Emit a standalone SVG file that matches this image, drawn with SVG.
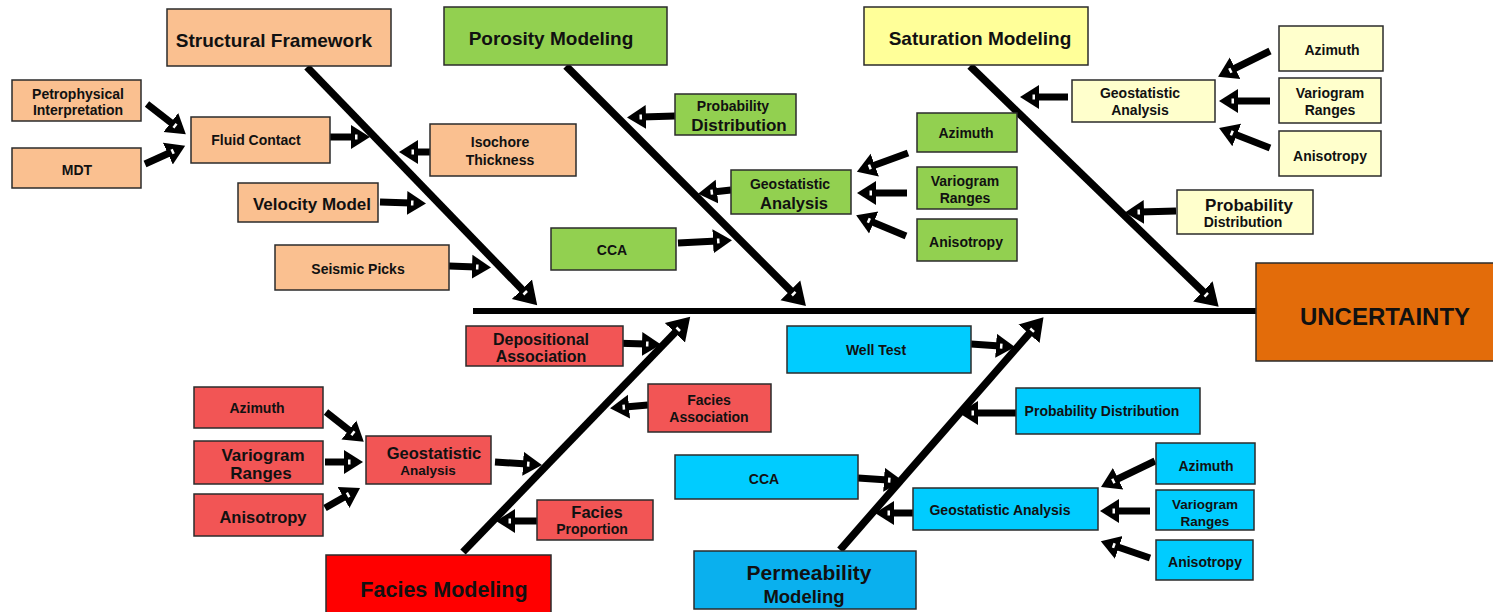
<svg xmlns="http://www.w3.org/2000/svg" width="1493" height="612" viewBox="0 0 1493 612">
<style>
rect{stroke:#2b2b2b;stroke-width:1.5}
text{font-family:"Liberation Sans",Arial,sans-serif;font-weight:bold;fill:#111;text-anchor:middle}
.peach{fill:#FAC090}.green{fill:#92D050}.yh{fill:#FFFF99}.yl{fill:#FFFFCC}
.red{fill:#F25555}.redH{fill:#FF0000}.cyan{fill:#00CCFF}.blueH{fill:#0AB0EE}.orange{fill:#E36C0A}
.a{stroke:#000;stroke-width:7;fill:none;marker-end:url(#ah)}
.b{stroke:#000;stroke-width:7.5;fill:none;marker-end:url(#bh)}
</style>
<defs>
<marker id="ah" markerUnits="userSpaceOnUse" markerWidth="20" markerHeight="26" viewBox="0 0 20 26" refX="4" refY="13" orient="auto">
<path d="M0,1 L19,13 L0,25 Z" fill="#000"/><rect x="4" y="10.5" width="2.5" height="5" fill="#fff" style="stroke:none"/>
</marker>
<marker id="bh" markerUnits="userSpaceOnUse" markerWidth="23" markerHeight="30" viewBox="0 0 23 30" refX="3" refY="15" orient="auto">
<path d="M0,1 L22,15 L0,29 Z" fill="#000"/><rect x="3.5" y="12.5" width="2.5" height="5" fill="#fff" style="stroke:none"/>
</marker>
</defs>

<g id="connectors">
<line x1="473" y1="311" x2="1257" y2="311" stroke="#000" stroke-width="6"/>
<line class="b" x1="307" y1="67" x2="524" y2="291.5"/>
<line class="b" x1="566" y1="66" x2="792.5" y2="292.5"/>
<line class="b" x1="970" y1="66" x2="1205" y2="293.5"/>
<line class="b" x1="463" y1="552" x2="677" y2="330.5"/>
<line class="b" x1="840" y1="550" x2="1031" y2="331.5"/>
<line class="a" x1="147" y1="104" x2="174" y2="125"/>
<line class="a" x1="145" y1="164" x2="171.5" y2="152"/>
<line class="a" x1="330" y1="137" x2="355" y2="137"/>
<line class="a" x1="430" y1="152" x2="414" y2="152"/>
<line class="a" x1="380" y1="202" x2="411" y2="203"/>
<line class="a" x1="449" y1="266" x2="476" y2="267"/>
<line class="a" x1="675" y1="116" x2="642" y2="117"/>
<line class="a" x1="731" y1="190" x2="713" y2="192"/>
<line class="a" x1="678" y1="243" x2="717" y2="241"/>
<line class="a" x1="908" y1="153" x2="871" y2="166.5"/>
<line class="a" x1="907" y1="193" x2="872" y2="193"/>
<line class="a" x1="906" y1="236" x2="870" y2="221"/>
<line class="a" x1="1068" y1="97" x2="1035" y2="97"/>
<line class="a" x1="1270" y1="51" x2="1231.5" y2="70"/>
<line class="a" x1="1270" y1="101" x2="1234" y2="101"/>
<line class="a" x1="1270" y1="148" x2="1233" y2="133.5"/>
<line class="a" x1="1176" y1="211" x2="1140" y2="212"/>
<line class="a" x1="611" y1="343" x2="646" y2="344"/>
<line class="a" x1="648" y1="405" x2="625" y2="407"/>
<line class="a" x1="326" y1="412" x2="352" y2="432.5"/>
<line class="a" x1="325" y1="462" x2="348" y2="462"/>
<line class="a" x1="325" y1="508" x2="347" y2="495.5"/>
<line class="a" x1="495" y1="462" x2="527" y2="464"/>
<line class="a" x1="537" y1="521" x2="511" y2="521"/>
<line class="a" x1="971" y1="344" x2="1000" y2="346"/>
<line class="a" x1="1016" y1="413" x2="974" y2="413"/>
<line class="a" x1="858" y1="478" x2="888" y2="480"/>
<line class="a" x1="913" y1="513" x2="890" y2="513"/>
<line class="a" x1="1155" y1="461" x2="1114.5" y2="480.5"/>
<line class="a" x1="1150" y1="511" x2="1115" y2="511"/>
<line class="a" x1="1150" y1="558" x2="1115" y2="546"/>
</g>

<g id="structural-framework"><rect class="peach" x="167" y="9" width="224" height="57"/><text x="274" y="47" font-size="19">Structural Framework</text></g>
<g id="porosity-modeling"><rect class="green" x="444" y="7" width="223" height="58"/><text x="551" y="45" font-size="19">Porosity Modeling</text></g>
<g id="saturation-modeling"><rect class="yh" x="864" y="7" width="224" height="58"/><text x="980" y="45" font-size="19">Saturation Modeling</text></g>

<g id="petrophysical"><rect class="peach" x="12" y="80" width="129" height="41"/><text x="78" y="99" font-size="14">Petrophysical</text><text x="78" y="115" font-size="14">Interpretation</text></g>
<g id="mdt"><rect class="peach" x="12" y="148" width="129" height="40"/><text x="77" y="175" font-size="14">MDT</text></g>
<g id="fluid-contact"><rect class="peach" x="191" y="117" width="139" height="46"/><text x="256" y="145" font-size="14">Fluid Contact</text></g>
<g id="isochore"><rect class="peach" x="430" y="124" width="146" height="52"/><text x="500" y="147" font-size="14">Isochore</text><text x="500" y="165" font-size="14">Thickness</text></g>
<g id="velocity-model"><rect class="peach" x="238" y="183" width="140" height="39"/><text x="312" y="210" font-size="17">Velocity Model</text></g>
<g id="seismic-picks"><rect class="peach" x="275" y="245" width="174" height="45"/><text x="358" y="274" font-size="14">Seismic Picks</text></g>

<g id="porosity-probability"><rect class="green" x="675" y="94" width="121" height="41"/><text x="733" y="111" font-size="14">Probability</text><text x="739" y="131" font-size="17">Distribution</text></g>
<g id="porosity-geostat"><rect class="green" x="731" y="170" width="120" height="44"/><text x="790" y="189" font-size="14">Geostatistic</text><text x="794" y="209" font-size="16.5">Analysis</text></g>
<g id="porosity-cca"><rect class="green" x="551" y="228" width="125" height="42"/><text x="612" y="255" font-size="14">CCA</text></g>
<g id="porosity-azimuth"><rect class="green" x="917" y="113" width="100" height="39"/><text x="966" y="138" font-size="14">Azimuth</text></g>
<g id="porosity-variogram"><rect class="green" x="917" y="167" width="100" height="42"/><text x="965" y="186" font-size="14">Variogram</text><text x="965" y="203" font-size="14">Ranges</text></g>
<g id="porosity-anisotropy"><rect class="green" x="917" y="219" width="100" height="42"/><text x="966" y="247" font-size="14">Anisotropy</text></g>

<g id="saturation-geostat"><rect class="yl" x="1072" y="80" width="143" height="42"/><text x="1140" y="98" font-size="14">Geostatistic</text><text x="1140" y="115" font-size="14">Analysis</text></g>
<g id="saturation-azimuth"><rect class="yl" x="1279" y="26" width="104" height="45"/><text x="1332" y="55" font-size="14">Azimuth</text></g>
<g id="saturation-variogram"><rect class="yl" x="1279" y="78" width="102" height="45"/><text x="1330" y="98" font-size="14">Variogram</text><text x="1330" y="115" font-size="14">Ranges</text></g>
<g id="saturation-anisotropy"><rect class="yl" x="1279" y="131" width="102" height="45"/><text x="1330" y="161" font-size="14">Anisotropy</text></g>
<g id="saturation-probability"><rect class="yl" x="1177" y="190" width="136" height="44"/><text x="1249" y="211" font-size="17">Probability</text><text x="1243" y="227" font-size="14">Distribution</text></g>

<g id="uncertainty"><rect class="orange" x="1256" y="263" width="240" height="98"/><text x="1385" y="325" font-size="24">UNCERTAINTY</text></g>

<g id="depositional-association"><rect class="red" x="466" y="326" width="157" height="40"/><text x="541" y="345" font-size="16">Depositional</text><text x="541" y="362" font-size="16">Association</text></g>
<g id="facies-association"><rect class="red" x="648" y="384" width="123" height="48"/><text x="709" y="405" font-size="14">Facies</text><text x="709" y="422" font-size="14">Association</text></g>
<g id="facies-azimuth"><rect class="red" x="194" y="387" width="129" height="41"/><text x="257" y="413" font-size="14">Azimuth</text></g>
<g id="facies-variogram"><rect class="red" x="194" y="441" width="129" height="43"/><text x="263" y="461" font-size="17">Variogram</text><text x="261" y="479" font-size="17">Ranges</text></g>
<g id="facies-anisotropy"><rect class="red" x="194" y="494" width="129" height="42"/><text x="263" y="523" font-size="16.5">Anisotropy</text></g>
<g id="facies-geostat"><rect class="red" x="366" y="436" width="125" height="48"/><text x="434" y="459" font-size="16.5">Geostatistic</text><text x="428" y="475" font-size="13.5">Analysis</text></g>
<g id="facies-proportion"><rect class="red" x="537" y="500" width="116" height="40"/><text x="597" y="518" font-size="16.5">Facies</text><text x="592" y="534" font-size="14">Proportion</text></g>
<g id="facies-modeling"><rect class="redH" x="326" y="555" width="225" height="60"/><text x="444" y="597" font-size="21.5">Facies Modeling</text></g>

<g id="well-test"><rect class="cyan" x="787" y="326" width="184" height="47"/><text x="876" y="355" font-size="14">Well Test</text></g>
<g id="perm-probability"><rect class="cyan" x="1016" y="388" width="184" height="46"/><text x="1102" y="416" font-size="14">Probability Distribution</text></g>
<g id="perm-cca"><rect class="cyan" x="675" y="455" width="183" height="44"/><text x="764" y="484" font-size="14">CCA</text></g>
<g id="perm-geostat"><rect class="cyan" x="913" y="488" width="185" height="42"/><text x="1000" y="515" font-size="14">Geostatistic Analysis</text></g>
<g id="perm-azimuth"><rect class="cyan" x="1156" y="443" width="99" height="41"/><text x="1206" y="471" font-size="14">Azimuth</text></g>
<g id="perm-variogram"><rect class="cyan" x="1156" y="490" width="98" height="40"/><text x="1205" y="509" font-size="13.5">Variogram</text><text x="1205" y="526" font-size="13.5">Ranges</text></g>
<g id="perm-anisotropy"><rect class="cyan" x="1156" y="540" width="97" height="40"/><text x="1205" y="567" font-size="14">Anisotropy</text></g>
<g id="permeability-modeling"><rect class="blueH" x="694" y="551" width="222" height="58"/><text x="809" y="580" font-size="21">Permeability</text><text x="804" y="603" font-size="18.5">Modeling</text></g>
</svg>
